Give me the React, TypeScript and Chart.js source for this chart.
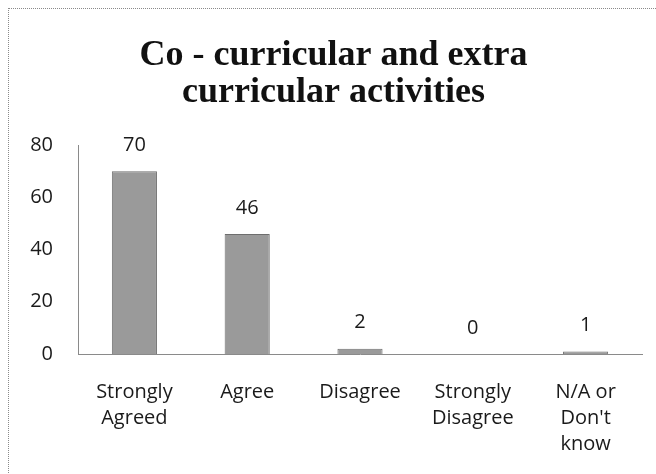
import React, { useEffect, useRef } from "react";
import { Chart, registerables } from "chart.js";

Chart.register(...registerables);

const categories: string[][] = [
  ["Strongly", "Agreed"],
  ["Agree"],
  ["Disagree"],
  ["Strongly", "Disagree"],
  ["N/A or", "Don't", "know"],
];
const responses: number[] = [70, 46, 2, 0, 1];
const titleLines: string[] = ["Co - curricular and extra", "curricular activities"];
const yMin = 0;
const yMax = 80;
const yStep = 20;

const TICK_FONT = "'Open Sans', 'Liberation Sans', sans-serif";

const valueLabels = {
  id: "valueLabels",
  afterDatasetsDraw(chart: any) {
    const ctx = chart.ctx;
    const meta = chart.getDatasetMeta(0);
    const data = chart.data.datasets[0].data as number[];
    ctx.save();
    ctx.font = `20px ${TICK_FONT}`;
    ctx.fillStyle = "#1a1a1a";
    ctx.textAlign = "center";
    ctx.textBaseline = "middle";
    meta.data.forEach((bar: any, i: number) => {
      ctx.fillText(String(data[i]), bar.x, bar.y - 26);
    });
    ctx.restore();
  },
};

export default function App() {
  const canvasRef = useRef<HTMLCanvasElement | null>(null);

  useEffect(() => {
    if (!canvasRef.current) return;
    const chart = new Chart(canvasRef.current, {
      type: "bar",
      data: {
        labels: categories,
        datasets: [
          {
            data: responses,
            backgroundColor: "#9a9a9a",
            borderColor: "#6e6e6e",
            borderWidth: 1,
            barPercentage: 0.4,
            categoryPercentage: 1,
          },
        ],
      },
      options: {
        animation: false,
        responsive: false,
        maintainAspectRatio: false,
        layout: { padding: { top: 0, right: 26, bottom: 1, left: 16 } },
        plugins: {
          legend: { display: false },
          tooltip: { enabled: false },
          title: {
            display: true,
            text: titleLines,
            color: "#111",
            font: {
              family: "'Liberation Serif', 'Times New Roman', serif",
              size: 36,
              weight: "bold",
              lineHeight: 1.03,
            },
            padding: { top: 28, bottom: 34 },
          },
        },
        scales: {
          x: {
            grid: { display: false, drawTicks: false },
            border: { display: true, color: "#8a8a8a", dash: [2, 1] },
            ticks: {
              color: "#1a1a1a",
              padding: 25,
              maxRotation: 0,
              autoSkip: false,
              font: { family: TICK_FONT, size: 20, lineHeight: 1.3 },
            },
          },
          y: {
            min: yMin,
            max: yMax,
            grid: { display: false, drawTicks: false },
            border: { display: true, color: "#8a8a8a", dash: [2, 1] },
            ticks: {
              stepSize: yStep,
              color: "#1a1a1a",
              padding: 25,
              font: { family: TICK_FONT, size: 20 },
            },
            afterFit: (scale: any) => {
              scale.width = 53;
            },
          },
        },
      },
      plugins: [valueLabels],
    });
    return () => chart.destroy();
  }, []);

  return (
    <div
      style={{
        position: "fixed",
        top: 8,
        left: 8,
        width: 659,
        height: 474,
        borderTop: "1px dotted #8a8a8a",
        borderLeft: "1px dotted #8a8a8a",
        background: "#fff",
      }}
    >
      <canvas ref={canvasRef} width={659} height={474} style={{ display: "block" }} />
    </div>
  );
}
